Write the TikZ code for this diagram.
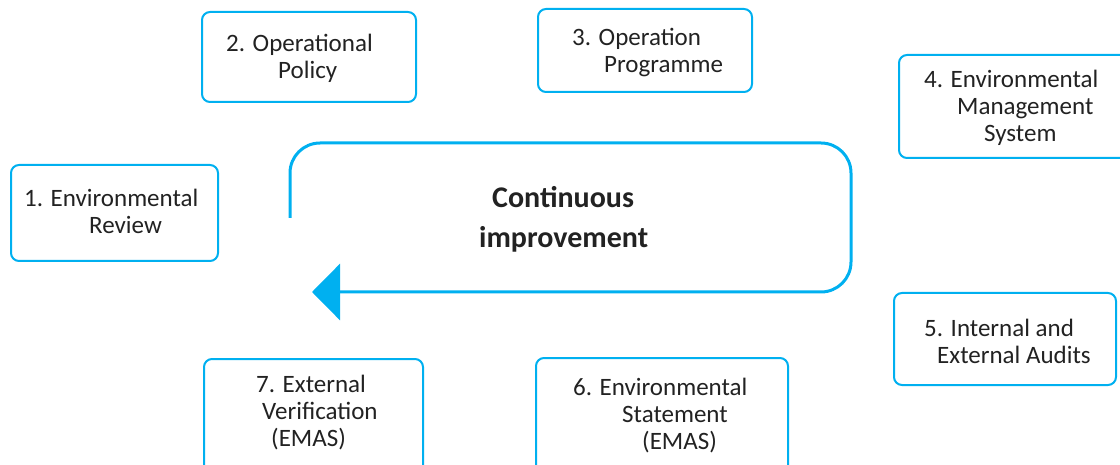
\documentclass[tikz,border=0pt]{standalone}
\usepackage{fontspec}
\setmainfont{Carlito}
\usetikzlibrary{arrows.meta}
\definecolor{emasblue}{HTML}{00B0F0}
\definecolor{inkgray}{HTML}{222222}
\begin{document}
\begin{tikzpicture}[x=1pt,y=-1pt,
  stepbox/.style={draw=emasblue,line width=2pt,rounded corners=8pt,fill=white},
  steptext/.style={text=inkgray,align=left,anchor=west,inner sep=0pt,
    font=\fontsize{25}{27}\selectfont},
  cycletext/.style={text=inkgray,align=left,anchor=west,inner sep=0pt,
    font=\fontsize{30}{40}\selectfont\bfseries},
  cycleline/.style={draw=emasblue,line width=3pt,rounded corners=30pt}]
\useasboundingbox (0,0) rectangle (1120,465);
\clip (0,0) rectangle (1120,465);

% step boxes
\draw[stepbox] (11,165) rectangle (218,261);
\draw[stepbox] (202,12) rectangle (416,102);
\draw[stepbox] (538,9) rectangle (752,92);
\draw[stepbox] (899,55) rectangle (1135,158);
\draw[stepbox] (894,293) rectangle (1116,385);
\draw[stepbox] (536,358) rectangle (788,480);
\draw[stepbox] (204,359) rectangle (423,480);

% step labels, each line indented on its own
\node[steptext] (s1) at (24,211) {1. Environmental\\\hspace*{65pt}Review};
\node[steptext] (s2) at (226,58) {2. Operational\\\hspace*{52pt}Policy};
\node[steptext] (s3) at (572,53) {3. Operation\\\hspace*{32pt}Programme};
\node[steptext] (s4) at (924,108) {4. Environmental\\\hspace*{33pt}Management\\\hspace*{60pt}System};
\node[steptext] (s5) at (924,341) {5. Internal and\\\hspace*{13pt}External Audits};
\node[steptext] (s6) at (573,416) {6. Environmental\\\hspace*{49pt}Statement\\\hspace*{69pt}(EMAS)};
\node[steptext] (s7) at (256,413) {7. External\\\hspace*{6pt}Verification\\\hspace*{15pt}(EMAS)};

% improvement cycle
\coordinate (loopstart) at (290,218);
\coordinate (looptip) at (312,292);
\draw[cycleline,-{Triangle[width=56pt,length=28pt]}]
  (loopstart) -- (290,143) -- (851,143) -- (851,292) -- (looptip);
\node[cycletext] (ci) at (479,219) {\hspace*{13pt}Continuous\\improvement};
\end{tikzpicture}
\end{document}
